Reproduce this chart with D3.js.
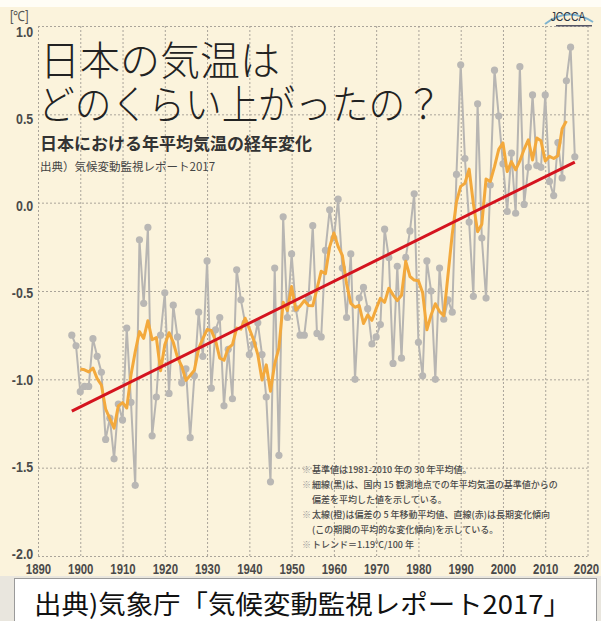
<!DOCTYPE html>
<html><head><meta charset="utf-8">
<script src="https://cdn.jsdelivr.net/npm/d3@7"></script>
<style>
html,body{margin:0;padding:0;background:#fff;}
svg{display:block;}
</style></head><body>
<svg id="chart" width="601" height="621"></svg>
<script>
// ---- data ----
const startYear = 1898;
const anomalies = [
  -0.75,-0.81,-1.07,-1.04,-1.04,-0.77,-0.87,-0.96,-1.34,-1.22, // 1898-1907
  -1.45,-1.14,-1.23,-0.71,-1.13,-1.60,-0.21,-0.57,-0.14,-1.32, // 1908-1917
  -1.10,-0.75,-0.51,-1.08,-0.58,-0.76,-1.02,-0.94,-1.33,-0.98, // 1918-1927
  -0.62,-0.87,-0.33,-1.05,-0.72,-0.65,-1.15,-0.83,-1.11,-0.38, // 1928-1937
  -0.55,-0.68,-0.86,-0.80,-0.68,-0.86,-1.10,-1.58,-0.37,-1.43, // 1938-1947
  -0.08,-0.65,-0.29,-0.60,-0.75,-0.75,-0.54,-0.13,-0.74,-0.76, // 1948-1957
  -0.27,-0.04,-0.20, 0.02,-0.37,-0.65,-0.29,-1.00,-0.54,-0.48, // 1958-1967
  -0.60,-0.80,-0.76,-0.69,-0.15,-0.31,-0.91,-0.36,-0.88,-0.31, // 1968-1977
  -0.16, 0.05,-0.79,-0.98,-0.33,-0.50,-1.00,-0.37,-0.66,-0.55, // 1978-1987
  -0.62, 0.16, 0.78, 0.25,-0.11,-0.53, 0.56,-0.20,-0.54, 0.10, // 1988-1997
   0.75, 0.49, 0.22,-0.05, 0.28,-0.06, 0.77,-0.01, 0.20, 0.61, // 1998-2007
   0.21, 0.20, 0.61, 0.12, 0.04, 0.34, 0.14, 0.69, 0.88, 0.26  // 2008-2017
];
const years = anomalies.map((d, i) => startYear + i);
const trendYears = [1898, 2017];
const trendValues = [-1.18, 0.23];
const xTicks = [1890,1900,1910,1920,1930,1940,1950,1960,1970,1980,1990,2000,2010,2020];
const yTicks = [1.0, 0.5, 0.0, -0.5, -1.0, -1.5, -2.0];
const titleLines = ["日本の気温は", "どのくらい上がったの？"];
const subTitle = "日本における年平均気温の経年変化";
const sourceSmall = "出典）気候変動監視レポート2017";
const notes = [
  ["※", "基準値は1981-2010 年の 30 年平均値。"],
  ["※", "細線(黒)は、国内 15 観測地点での年平均気温の基準値からの"],
  ["", "偏差を平均した値を示している。"],
  ["※", "太線(橙)は偏差の 5 年移動平均値、直線(赤)は長期変化傾向"],
  ["", "(この期間の平均的な変化傾向)を示している。"],
  ["※", "トレンド＝1.19℃/100 年"]
];
const sourceBox = "出典)気象庁「気候変動監視レポート2017」";

// ---- derived series ----
const series = years.map((y, i) => ({year: y, value: anomalies[i]}));
const movingAvg = series.slice(2, series.length - 2).map((d, k) => ({
  year: d.year,
  value: d3.mean(anomalies.slice(k, k + 5))
}));
const trend = trendYears.map((y, i) => ({year: y, value: trendValues[i]}));

// ---- drawing ----
const svg = d3.select("#chart");
const W = 601, H = 621;
const x = d3.scaleLinear().domain([1890, 2020]).range([38, 587.5]);
const y = d3.scaleLinear().domain([-2, 1]).range([556, 26]);
const yLabel = d3.scaleLinear().domain([-2, 1]).range([553, 31]);

svg.append("rect").attr("x", 0).attr("y", 0).attr("width", W).attr("height", H).attr("fill", "#fffdf6");
svg.append("rect").attr("x", 0).attr("y", 7).attr("width", W).attr("height", 571).attr("fill", "#fbf3dc");
svg.append("rect").attr("x", 0).attr("y", 576).attr("width", W).attr("height", 45).attr("fill", "#e9e6de");

const numFont = "'Liberation Sans','Arimo',Arial,sans-serif";
const jpFont = "'Noto Sans CJK JP','Noto Sans CJK SC',sans-serif";
function condense(sel, f) {
  sel.each(function() {
    const w = this.getComputedTextLength();
    d3.select(this).attr("textLength", w * f).attr("lengthAdjust", "spacingAndGlyphs");
  });
}

// grid + axes
const gy = svg.append("g").attr("transform", `translate(${x(1890)},0)`)
  .call(d3.axisLeft(y).tickValues(yTicks).tickSize(-(x(2020) - x(1890))).tickPadding(6)
    .tickFormat(d => d.toFixed(1)));
gy.select(".domain").remove();
gy.selectAll(".tick line").attr("stroke", "#aaa49a").attr("stroke-width", 1).attr("stroke-dasharray", "2,2");
gy.selectAll(".tick text").attr("font-family", numFont).attr("font-size", 15.5).attr("font-weight", "bold")
  .attr("fill", "#4a4a4a").attr("dy", d => (yLabel(d) - y(d) + 5.5) + "px")
  .attr("transform", "scale(0.8,1)");

const gx = svg.append("g").attr("transform", `translate(0,${y(-2)})`)
  .call(d3.axisBottom(x).tickValues(xTicks).tickSize(-(y(-2) - y(1))).tickPadding(7)
    .tickFormat(d3.format("d")));
gx.select(".domain").remove();
gx.selectAll(".tick line").attr("stroke", "#aaa49a").attr("stroke-width", 1).attr("stroke-dasharray", "2,2");
gx.selectAll(".tick text").attr("font-family", numFont).attr("font-size", 15).attr("font-weight", "bold")
  .attr("fill", "#4a4a4a").attr("transform", "scale(0.76,1)");
gx.selectAll(".tick text").filter(d => d === 2020).attr("dx", -2);

// unit
const unit = svg.append("text").attr("x", 10).attr("y", 21).attr("font-family", numFont).attr("font-size", 14)
  .attr("fill", "#555").text("[℃]");
condense(unit, 0.85);

// gray annual line and points
const line = d3.line().x(d => x(d.year)).y(d => y(d.value));
svg.append("path").datum(series).attr("d", line).attr("fill", "none")
  .attr("stroke", "#b7b5b2").attr("stroke-width", 2);
svg.append("g").selectAll("circle").data(series).join("circle")
  .attr("cx", d => x(d.year)).attr("cy", d => y(d.value)).attr("r", 3.6).attr("fill", "#b9b7b4");

// orange moving average
svg.append("path").datum(movingAvg).attr("d", line).attr("fill", "none")
  .attr("stroke", "#f3a93c").attr("stroke-width", 3).attr("stroke-linejoin", "round");

// red trend
svg.append("path").datum(trend).attr("d", line).attr("fill", "none")
  .attr("stroke", "#d4141f").attr("stroke-width", 3);

// titles
const tg = svg.append("g").attr("font-family", jpFont).attr("fill", "#222");
tg.append("text").attr("x", 40).attr("y", 75).attr("font-size", 40).attr("font-weight", 300).text(titleLines[0]);
tg.append("text").attr("x", 38).attr("y", 119).attr("font-size", 40).attr("font-weight", 300)
  .attr("textLength", 404).attr("lengthAdjust", "spacingAndGlyphs").text(titleLines[1]);
tg.append("text").attr("x", 40).attr("y", 150).attr("font-size", 17).attr("font-weight", "bold")
  .attr("fill", "#333").text(subTitle);
tg.append("text").attr("x", 40).attr("y", 171).attr("font-size", 11.5).attr("fill", "#444").text(sourceSmall);

// notes
const ng = svg.append("g").attr("font-family", jpFont).attr("font-size", 9).attr("font-weight", 500).attr("fill", "#4a4a4a");
notes.forEach((n, i) => {
  const yy = 473 + i * 15;
  if (n[0]) ng.append("text").attr("x", 302).attr("y", yy).attr("fill", "#999").text(n[0]);
  ng.append("text").attr("x", 312).attr("y", yy).text(n[1]);
});

// logo
const lg = svg.append("g");
lg.append("path").attr("d", "M545,24 Q568,6 593,22").attr("fill", "none").attr("stroke", "#7fb3cf").attr("stroke-width", 2);
const logoText = lg.append("text").attr("x", 568).attr("y", 21).attr("text-anchor", "middle").attr("font-family", numFont)
  .attr("font-size", 13).attr("fill", "#2b3440").text("JCCCA");
condense(logoText, 0.8);
lg.append("rect").attr("x", 556).attr("y", 25).attr("width", 36).attr("height", 1.5).attr("fill", "#556");

// bottom source box
svg.append("rect").attr("x", 14.5).attr("y", 578.5).attr("width", 582).attr("height", 50)
  .attr("fill", "#fff").attr("stroke", "#9a9a9a").attr("stroke-width", 1);
svg.append("text").attr("x", 34).attr("y", 614).attr("font-family", jpFont).attr("font-size", 26)
  .attr("fill", "#111").attr("textLength", 537).attr("lengthAdjust", "spacingAndGlyphs").text(sourceBox);
</script>
</body></html>
